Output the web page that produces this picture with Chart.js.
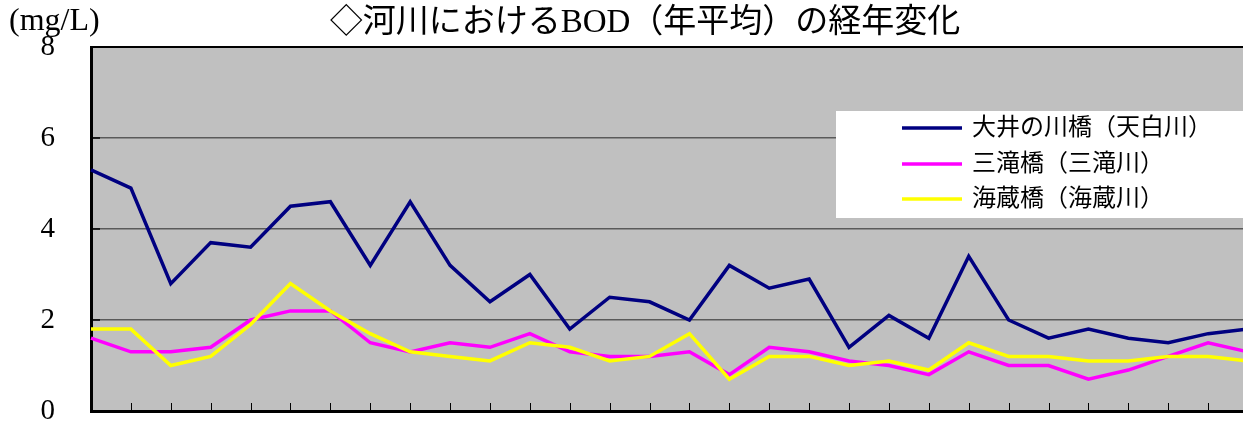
<!DOCTYPE html>
<html>
<head>
<meta charset="utf-8">
<script src="https://cdn.jsdelivr.net/npm/chart.js@4/dist/chart.umd.min.js"></script>
<style>
html,body{margin:0;padding:0;background:#fff;overflow:hidden;}
#wrap{width:1290px;height:427px;}
</style>
</head>
<body>
<div id="wrap"><canvas id="bod" width="1290" height="427"></canvas></div>
<script>
/* data (mg/L, yearly mean) */
let years = ["1","2","3","4","5","6","7","8","9","10","11","12","13","14","15",
             "16","17","18","19","20","21","22","23","24","25","26","27","28","29","30"];
let ooibashi = [5.3,4.9,2.8,3.7,3.6,4.5,4.6,3.2,4.6,3.2,2.4,3.0,1.8,2.5,2.4,
                2.0,3.2,2.7,2.9,1.4,2.1,1.6,3.4,2.0,1.6,1.8,1.6,1.5,1.7,1.8];
let mitakibashi = [1.6,1.3,1.3,1.4,2.0,2.2,2.2,1.5,1.3,1.5,1.4,1.7,1.3,1.2,1.2,
                   1.3,0.8,1.4,1.3,1.1,1.0,0.8,1.3,1.0,1.0,0.7,0.9,1.2,1.5,1.3];
let kaizobashi = [1.8,1.8,1.0,1.2,1.9,2.8,2.2,1.7,1.3,1.2,1.1,1.5,1.4,1.1,1.2,
                  1.7,0.7,1.2,1.2,1.0,1.1,0.9,1.5,1.2,1.2,1.1,1.1,1.2,1.2,1.1];
let seriesNames = ["大井の川橋（天白川）","三滝橋（三滝川）","海蔵橋（海蔵川）"];
let yTicks = [0,2,4,6,8];

const FONT = '"Liberation Serif","Noto Sans CJK JP",serif';

/* gray plot area, inner tick marks, frame, title, legend */
const decor = {
    id:"decor",
    beforeDraw(c){
        let a=c.chartArea, ctx=c.ctx;
        ctx.save();
        ctx.fillStyle="#c0c0c0";
        ctx.fillRect(a.left,a.top,a.right-a.left,a.bottom-a.top);
        ctx.restore();
    },
    beforeDatasetsDraw(c){
        let a=c.chartArea, ctx=c.ctx, x=c.scales.x, y=c.scales.y;
        ctx.save();
        ctx.strokeStyle="#000";
        ctx.lineWidth=1;
        years.forEach((v,i)=>{
            let px=Math.round(x.getPixelForValue(i))+0.5;
            ctx.beginPath();
            ctx.moveTo(px,a.bottom);
            ctx.lineTo(px,a.bottom-8);
            ctx.stroke();
        });
        ctx.lineWidth=1.5;
        yTicks.forEach(v=>{
            let py=y.getPixelForValue(v);
            ctx.beginPath();
            ctx.moveTo(a.left,py);
            ctx.lineTo(a.left+9,py);
            ctx.stroke();
        });
        ctx.lineWidth=2;
        ctx.beginPath();
        ctx.moveTo(a.left,a.top);
        ctx.lineTo(a.right,a.top);
        ctx.lineTo(a.right,a.bottom);
        ctx.stroke();
        ctx.restore();
    },
    afterDraw(c){
        let ctx=c.ctx;
        ctx.save();
        ctx.fillStyle="#000";
        ctx.textBaseline="middle";
        ctx.font="32px "+FONT;
        ctx.textAlign="left";
        ctx.fillText("(mg/L)",9,22);
        ctx.font="33px "+FONT;
        ctx.textAlign="center";
        ctx.fillText("◇河川におけるBOD（年平均）の経年変化",645,23);

        // legend box
        ctx.fillStyle="#fff";
        ctx.fillRect(836,111,410,107);
        ctx.font="24px "+FONT;
        ctx.textAlign="left";
        let rows=[128,164,199];
        c.data.datasets.forEach((d,i)=>{
            ctx.strokeStyle=d.borderColor;
            ctx.lineWidth=3.5;
            ctx.beginPath();
            ctx.moveTo(902,rows[i]);
            ctx.lineTo(962,rows[i]);
            ctx.stroke();
            ctx.fillStyle="#000";
            ctx.fillText(d.label,972,rows[i]+1);
        });
        ctx.restore();
    }
};

new Chart(document.getElementById("bod"),{
    type:"line",
    data:{
        labels:years,
        datasets:[
            {label:seriesNames[0],data:ooibashi,borderColor:"#000080",order:3},
            {label:seriesNames[1],data:mitakibashi,borderColor:"#ff00ff",order:2},
            {label:seriesNames[2],data:kaizobashi,borderColor:"#ffff00",order:1}
        ]
    },
    options:{
        responsive:false,
        animation:false,
        devicePixelRatio:1,
        elements:{
            line:{borderWidth:3.5,tension:0,borderJoinStyle:"miter",fill:false},
            point:{radius:0,hoverRadius:0}
        },
        layout:{padding:{left:0,top:47,right:42,bottom:16}},
        plugins:{legend:{display:false},title:{display:false},tooltip:{enabled:false}},
        scales:{
            x:{
                offset:false,
                afterFit(s){ s.height=0; },
                ticks:{display:false},
                grid:{display:false},
                border:{display:true,color:"#000",width:3}
            },
            y:{
                min:0,max:8,
                afterBuildTicks(s){ s.ticks=yTicks.map(v=>({value:v})); },
                afterFit(s){ s.width=91; },
                // label gap comes from an invisible tick length, not padding
                ticks:{color:"#000",padding:0,font:{family:FONT,size:29,lineHeight:1}},
                grid:{color:"#5a5a5a",lineWidth:1.5,drawTicks:true,tickLength:36,tickColor:"rgba(0,0,0,0)"},
                border:{display:true,color:"#000",width:3}
            }
        }
    },
    plugins:[decor]
});
</script>
</body>
</html>
